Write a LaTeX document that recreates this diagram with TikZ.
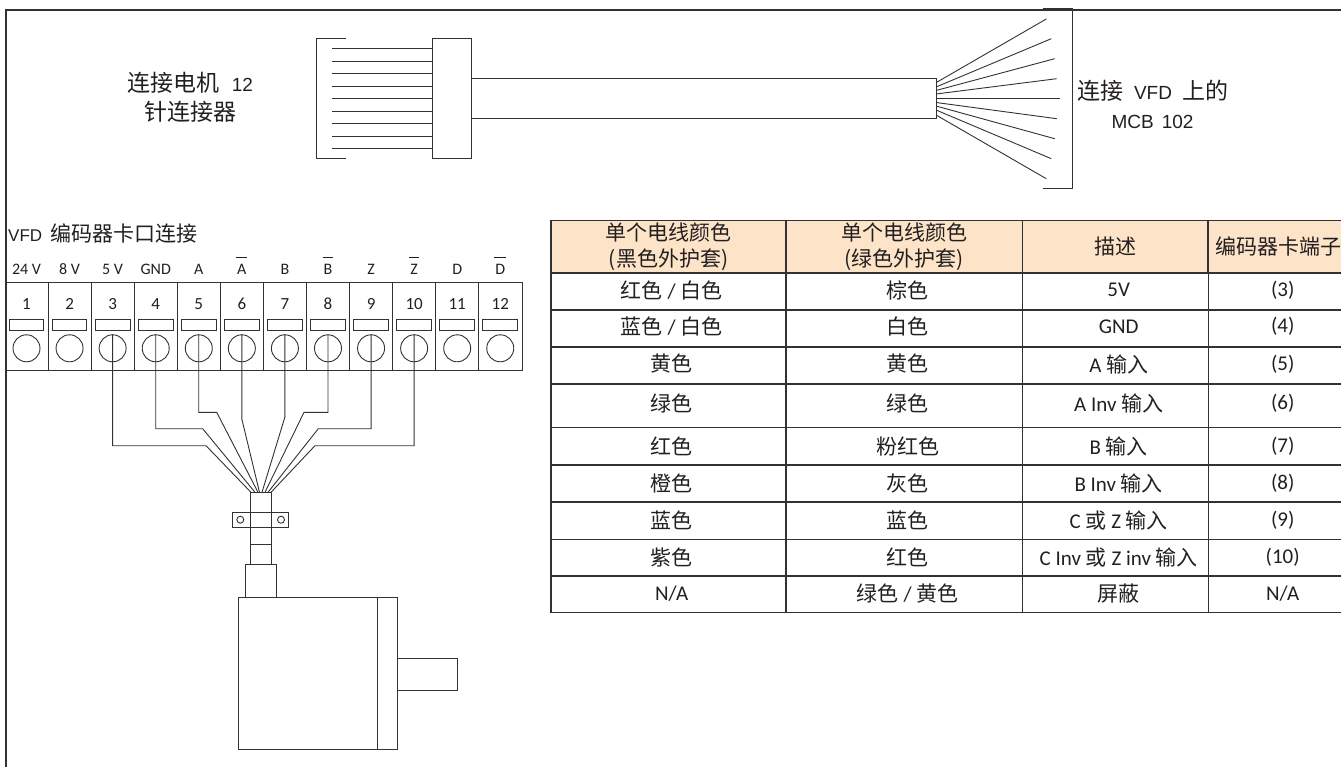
\documentclass[tikz,border=0pt]{standalone}
\usepackage{fontspec}
\usepackage{amsmath}
\setmainfont{Carlito}
\newfontfamily\cjk{Noto Sans CJK SC}
\newfontfamily\arl{Liberation Sans}
\newcommand{\cj}[1]{{\cjk #1}}
\newcommand{\cjb}[1]{{\cjk\fontsize{23}{29}\selectfont #1}}
\newcommand{\cjm}[1]{{\cjk\fontsize{21}{25}\selectfont #1}}
\newcommand{\ovl}[1]{\ensuremath{\overline{\mbox{\rule{0pt}{15pt}\hspace{1pt}#1\hspace{1pt}}}}}
\definecolor{hd_peach}{RGB}{253, 228, 200}
\definecolor{ln_dark}{RGB}{50, 50, 50}
\definecolor{tx_dark}{RGB}{35, 31, 32}
\tikzstyle{ln}=[draw=ln_dark,line width=0.9pt]
\tikzstyle{outer}=[draw=ln_dark,line width=1.5pt]
\tikzstyle{gline}=[draw=ln_dark,line width=1.4pt]
\tikzstyle{part}=[ln,rectangle,inner sep=0pt,fill=white]
\tikzstyle{ttl}=[text=tx_dark,inner sep=0pt,align=center,font=\arl\fontsize{19}{29}\selectfont]
\tikzstyle{tb}=[text=tx_dark,inner sep=0pt,font=\fontsize{21}{25}\selectfont]
\tikzstyle{hd}=[gline,rectangle,fill=hd_peach,text=tx_dark,inner sep=0pt,align=center,
  font=\fontsize{21}{26.5}\selectfont]
\tikzstyle{tm}=[text=tx_dark,inner sep=0pt,anchor=base,font=\fontsize{16}{18}\selectfont]
\tikzstyle{nm}=[text=tx_dark,inner sep=0pt,font=\fontsize{17}{19}\selectfont]
\begin{document}
\begin{tikzpicture}[x=1pt,y=-1pt]
    \useasboundingbox (0,0) rectangle (1341,767);
    \draw [outer] (6,767) -- (6,10) -- (1341,10);

    \node [style=ttl] (title1) at (190.5,97) {\cjb{连接电机}\hspace{12pt}12\\\cjb{针连接器}};
    \node [style=ttl] (title2) at (1152.5,104.5) {\cjb{连接}\hspace{11pt}VFD\hspace{10pt}\cjb{上的}\\MCB\hspace{8pt}102};
    \node [style=ttl,anchor=west,font=\arl\fontsize{17}{25}\selectfont] (title3) at (8,233) {VFD\hspace{8pt}\cjm{编码器卡口连接}};

    \draw [ln] (346,38.7) -- (316,38.7) -- (316,158.7) -- (346,158.7);
    \node [style=part,minimum width=39.5pt,minimum height=120pt] (blk) at (451.7,98.7) {};
    \node [style=part,minimum width=464.5pt,minimum height=39.6pt] (cbl) at (703.7,98.5) {};
    \foreach \i/\y in {1/48.7,2/61.3,3/73.7,4/86.3,5/98.7,6/111.3,7/123.7,8/136.3,9/148.7} {
        \coordinate (pin\i) at (332,\y);
        \draw [ln] (pin\i) to (pin\i -| blk.west);
    }
    \draw [ln] (1043,8.3) -- (1072.7,8.3) -- (1072.7,188.7) -- (1043,188.7);
    \foreach \i/\a/\x/\y in {1/82.7/1046.3/19,2/87/1051.3/38.7,3/90.5/1054.7/58.7,
        4/94/1056.7/78.7,5/98.7/1060.3/98.7,6/102.5/1056.7/118.7,7/106/1054.7/138.7,
        8/110/1051.3/158.7,9/115/1046.3/178.7} {
        \coordinate (fan\i) at (936,\a);
        \coordinate (end\i) at (\x,\y);
        \draw [ln] (fan\i) to (end\i);
    }

    \draw [ln] (5,282) -- (522.3,282) -- (522.3,370) -- (5,370);
    \foreach \i/\t in {1/24 V,2/8 V,3/5 V,4/GND,5/A,6/\ovl{A},7/B,8/\ovl{B},9/Z,10/\ovl{Z},11/D,12/\ovl{D}} {
        \pgfmathsetmacro{\cx}{26.5+43.07*(\i-1)}
        \pgfmathsetmacro{\dx}{\cx+21.53}
        \node [style=tm] (lab\i) at (\cx,274.3) {\t};
        \node [style=nm] (num\i) at (\cx,304) {\i};
        \node [style=part,minimum width=34.7pt,minimum height=11pt] (slot\i) at (\cx,324.8) {};
        \node [style=part,circle,minimum size=27pt] (pad\i) at (\cx,348.3) {};
        \ifnum\i<12 \draw [ln] (\dx,282) -- (\dx,370); \fi
    }

    \node [style=part,minimum width=21pt,minimum height=72pt] (cab) at (260.8,528.3) {};
    \coordinate (seam) at (0,544.7);
    \draw [ln] (cab.west |- seam) to (cab.east |- seam);
    \draw [ln] (232.7,512.7) rectangle (288.7,527);
    \node [style=part,circle,minimum size=7pt] (hole1) at (240.3,519.7) {};
    \node [style=part,circle,minimum size=7pt] (hole2) at (281,519.7) {};
    \node [style=part,minimum width=31pt,minimum height=33pt] (neck) at (260.8,580.8) {};
    \node [style=part,minimum width=159pt,minimum height=152pt] (body) at (318.2,673.3) {};
    \draw [ln] (377.7,597.3) to (377.7,749.3);
    \node [style=part,minimum width=59.6pt,minimum height=32pt] (shaft) at (427.5,674.7) {};

    \foreach \i/\x/\y/\f in {3/206/445.7/251,4/202.7/428.7/255,5/216.7/412.3/258,6/241.9/419.3/259.5,
        7/285/416.7/262,8/304/412.3/265,9/318.3/428.7/268,10/315/445.7/271} {
        \coordinate (bend\i) at (\x,\y);
        \coordinate (tip\i) at (\f,492.3);
        \draw [ln] (pad\i.north) |- (bend\i) -- (tip\i);
    }

    \node [style=hd,minimum width=235pt,minimum height=52.7pt] (hd1) at (668.5,246.7) {\cj{单个电线颜色}\\\cj{(黑色外护套)}};
    \node [style=hd,minimum width=236.3pt,minimum height=52.7pt] (hd2) at (904.2,246.7) {\cj{单个电线颜色}\\\cj{(绿色外护套)}};
    \node [style=hd,minimum width=186pt,minimum height=52.7pt] (hd3) at (1115.3,246.7) {\cj{描述}};
    \node [style=hd,minimum width=140pt,minimum height=52.7pt] (hd4) at (1278,246.7) {\cj{编码器卡端子}};
    \foreach \y in {310,347,384,427.7,465,502,539.3,576,612.7} {
        \draw [gline] (551,\y) -- (1341,\y);
    }
    \foreach \x in {551,786,1022.3,1208.3} {
        \draw [gline] (\x,273) -- (\x,612.7);
    }
    \foreach \n/\y/\a/\b/\c/\d in {
        1/290/{\cj{红色} / \cj{白色}}/\cj{棕色}/5V/(3),
        2/326.7/{\cj{蓝色} / \cj{白色}}/\cj{白色}/GND/(4),
        3/364/\cj{黄色}/\cj{黄色}/A \cj{输入}/(5),
        4/403/\cj{绿色}/\cj{绿色}/A Inv \cj{输入}/(6),
        5/446/\cj{红色}/\cj{粉红色}/B \cj{输入}/(7),
        6/483.3/\cj{橙色}/\cj{灰色}/B Inv \cj{输入}/(8),
        7/520.7/\cj{蓝色}/\cj{蓝色}/C \cj{或} Z \cj{输入}/(9),
        8/557.3/\cj{紫色}/\cj{红色}/C Inv \cj{或} Z inv \cj{输入}/(10),
        9/593.3/{N/A}/{\cj{绿色} / \cj{黄色}}/\cj{屏蔽}/{N/A}} {
        \node [style=tb] (a\n) at (671.7,\y) {\a};
        \node [style=tb] (b\n) at (907.7,\y) {\b};
        \node [style=tb] (c\n) at (1118.7,\y) {\c};
        \node [style=tb] (d\n) at (1282.7,\y) {\d};
    }
\end{tikzpicture}
\end{document}
